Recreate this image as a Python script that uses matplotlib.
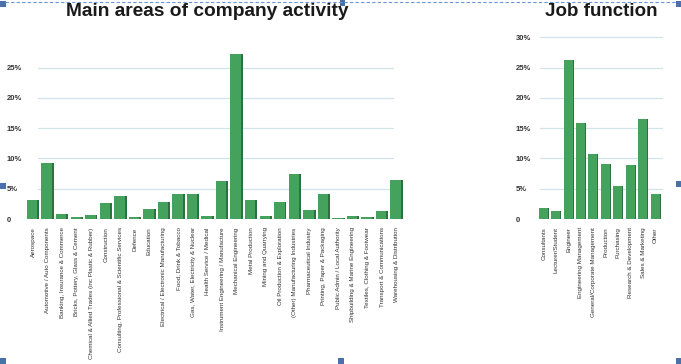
import matplotlib
matplotlib.use("Agg")
import matplotlib.pyplot as plt
from matplotlib.patches import Rectangle
from matplotlib.lines import Line2D

# ---------------- data ----------------
areas = [
    "Aerospace", "Automotive / Auto Components", "Banking, Insurance & Commerce",
    "Bricks, Pottery, Glass & Cement", "Chemical & Allied Trades (inc Plastic & Rubber)",
    "Construction", "Consulting, Professional & Scientific Services", "Defence",
    "Education", "Electrical / Electronic Manufacturing", "Food, Drink & Tobacco",
    "Gas, Water, Electricity & Nuclear", "Health Service / Medical",
    "Instrument Engineering / Manufacture", "Mechanical Engineering", "Metal Production",
    "Mining and Quarrying", "Oil Production & Exploration",
    "(Other) Manufacturing Industries", "Pharmaceutical Industry",
    "Printing, Paper & Packaging", "Public Admin / Local Authority",
    "Shipbuilding & Marine Engineering", "Textiles, Clothing & Footwear",
    "Transport & Communications", "Warehousing & Distribution",
]
area_values = [3.1, 9.2, 0.8, 0.3, 0.6, 2.6, 3.8, 0.3, 1.7, 2.8, 4.1, 4.2, 0.5,
               6.2, 27.3, 3.1, 0.5, 2.8, 7.5, 1.5, 4.2, 0.2, 0.5, 0.4, 1.3, 6.4]

jobs = ["Consultants", "Lecturer/Student", "Engineer", "Engineering Management",
        "General/Corporate Management", "Production", "Purchasing",
        "Research & Development", "Sales & Marketing", "Other"]
job_values = [1.8, 1.3, 26.3, 15.9, 10.7, 9.1, 5.4, 8.9, 16.5, 4.1]

left_ticks = [0, 5, 10, 15, 20, 25]
left_ticklabels = ["0", "5%", "10%", "15%", "20%", "25%"]
right_ticks = [0, 5, 10, 15, 20, 25, 30]
right_ticklabels = ["0", "5%", "10%", "15%", "20%", "25%", "30%"]

# ---------------- figure ----------------
W, H = 681, 364
fig = plt.figure(figsize=(W / 100, H / 100), dpi=100)
fig.patch.set_facecolor("white")

FRONT = "#45a25d"
SIDE = "#2c7240"
GRID = "#d3e3ea"
TXT = "#333333"
FONT = "Liberation Sans"

zero_px = 219.0      # y pixel (from top) of value 0
px_per = 6.06        # pixels per percent


def make_axes(x_left_px, width_px, ytop):
    bottom = (H - zero_px) / H
    height = ytop * px_per / H
    ax = fig.add_axes([x_left_px / W, bottom, width_px / W, height])
    ax.set_ylim(0, ytop)
    for s in ax.spines.values():
        s.set_visible(False)
    ax.tick_params(length=0)
    return ax


def draw_bars(ax, values, front_w, side_w):
    xs = list(range(len(values)))
    ax.bar([x - side_w / 2 for x in xs], values, width=front_w, color=FRONT,
           zorder=3, linewidth=0)
    ax.bar([x + front_w / 2 for x in xs], values,
           width=side_w, color=SIDE, zorder=3, linewidth=0)
    return xs


# ---- left chart ----
unit_l = 14.54
x0_l = 33.1
axl = make_axes(x0_l - 0.6 * unit_l, 26.2 * unit_l, 28.5)
axl.set_xlim(-0.6, 25.6)
xs = draw_bars(axl, area_values, 0.72, 0.13)
gx0 = (38 - (x0_l - 0.6 * unit_l)) / (26.2 * unit_l)
gx1 = (393 - (x0_l - 0.6 * unit_l)) / (26.2 * unit_l)
for t in left_ticks[1:]:
    axl.axhline(t, xmin=gx0, xmax=gx1, color=GRID, lw=0.9, zorder=1)
axl.set_yticks(left_ticks)
axl.set_yticklabels(left_ticklabels, fontsize=5.5, color=TXT, family=FONT,
                    fontweight="bold")
for lab in axl.get_yticklabels():
    lab.set_horizontalalignment("left")
axl.tick_params(axis="y", pad=(x0_l - 0.6 * unit_l - 7) * 0.72)
axl.set_xticks(xs)
axl.set_xticklabels(areas, rotation=90, fontsize=4.5, color=TXT, family=FONT,
                    va="top", ha="center")
axl.tick_params(axis="x", pad=6)

# ---- right chart ----
unit_r = 12.43
x0_r = 543.7
axr = make_axes(x0_r - 0.6 * unit_r, 10.2 * unit_r, 31)
axr.set_xlim(-0.6, 9.6)
xs_r = draw_bars(axr, job_values, 0.72, 0.08)
gx0 = (540 - (x0_r - 0.6 * unit_r)) / (10.2 * unit_r)
gx1 = (662 - (x0_r - 0.6 * unit_r)) / (10.2 * unit_r)
for t in right_ticks[1:]:
    axr.axhline(t, xmin=gx0, xmax=gx1, color=GRID, lw=0.9, zorder=1)
axr.set_yticks(right_ticks)
axr.set_yticklabels(right_ticklabels, fontsize=5.5, color=TXT, family=FONT,
                    fontweight="bold")
for lab in axr.get_yticklabels():
    lab.set_horizontalalignment("left")
axr.tick_params(axis="y", pad=(x0_r - 0.6 * unit_r - 516) * 0.72)
axr.set_xticks(xs_r)
axr.set_xticklabels(jobs, rotation=90, fontsize=4.5, color=TXT, family=FONT,
                    va="top", ha="center")
axr.tick_params(axis="x", pad=6)

# ---- titles ----
fig.text(207 / W, 1 - 11 / H, "Main areas of company activity", ha="center",
         va="center", fontsize=13.8, fontweight="bold", family=FONT,
         color="#1a1a1a")
fig.text(601 / W, 1 - 11 / H, "Job function", ha="center", va="center",
         fontsize=13.5, fontweight="bold", family=FONT, color="#1a1a1a")

# ---- selection frame decorations ----
BLUE = "#4a72a8"
fig.add_artist(Line2D([5 / W, 676 / W], [1 - 1.5 / H, 1 - 1.5 / H],
                      transform=fig.transFigure, color="#6a96d6", lw=0.8,
                      ls=(0, (3, 2))))
handles = [(0, 1), (340, 0), (676, 1), (0, 183), (676, 181),
           (0, 358), (338, 358), (676, 358)]
for hx, hy in handles:
    fig.add_artist(Rectangle((hx / W, 1 - (hy + 6) / H), 5.5 / W, 6 / H,
                             transform=fig.transFigure, color=BLUE, lw=0))

fig.savefig("out.png", dpi=100)
